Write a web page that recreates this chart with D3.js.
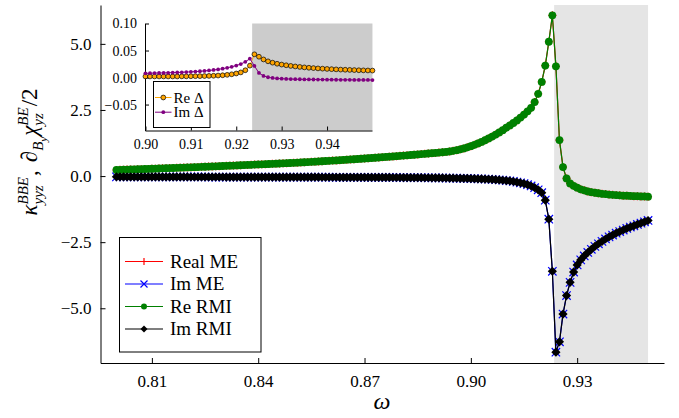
<!DOCTYPE html>
<html>
<head>
<meta charset="utf-8">
<script src="https://cdn.jsdelivr.net/npm/d3@7"></script>
<style>
  body { margin: 0; background: #fff; }
  text { font-family: "Liberation Serif", "DejaVu Serif", serif; fill: #000; }
</style>
</head>
<body>
<div class="canvas"></div>
<script>
// frequency grid of the main panel
const omega = [
  0.800, 0.801, 0.802, 0.803, 0.804, 0.805, 0.806, 0.807, 0.808, 0.809,
  0.810, 0.811, 0.812, 0.813, 0.814, 0.815, 0.816, 0.817, 0.818, 0.819,
  0.820, 0.821, 0.822, 0.823, 0.824, 0.825, 0.826, 0.827, 0.828, 0.829,
  0.830, 0.831, 0.832, 0.833, 0.834, 0.835, 0.836, 0.837, 0.838, 0.839,
  0.840, 0.841, 0.842, 0.843, 0.844, 0.845, 0.846, 0.847, 0.848, 0.849,
  0.850, 0.851, 0.852, 0.853, 0.854, 0.855, 0.856, 0.857, 0.858, 0.859,
  0.860, 0.861, 0.862, 0.863, 0.864, 0.865, 0.866, 0.867, 0.868, 0.869,
  0.870, 0.871, 0.872, 0.873, 0.874, 0.875, 0.876, 0.877, 0.878, 0.879,
  0.880, 0.881, 0.882, 0.883, 0.884, 0.885, 0.886, 0.887, 0.888, 0.889,
  0.890, 0.891, 0.892, 0.893, 0.894, 0.895, 0.896, 0.897, 0.898, 0.899,
  0.900, 0.901, 0.902, 0.903, 0.904, 0.905, 0.906, 0.907, 0.908, 0.909,
  0.910, 0.911, 0.912, 0.913, 0.914, 0.915, 0.916, 0.917, 0.918, 0.919,
  0.920, 0.921, 0.922, 0.923, 0.924, 0.925, 0.926, 0.927, 0.928, 0.929,
  0.930, 0.931, 0.932, 0.933, 0.934, 0.935, 0.936, 0.937, 0.938, 0.939,
  0.940, 0.941, 0.942, 0.943, 0.944, 0.945, 0.946, 0.947, 0.948, 0.949,
  0.950
];

const reRMI = [
  0.230, 0.235, 0.239, 0.244, 0.248, 0.253, 0.258, 0.262, 0.267, 0.272,
  0.277, 0.281, 0.286, 0.291, 0.296, 0.301, 0.306, 0.311, 0.316, 0.321,
  0.327, 0.332, 0.337, 0.342, 0.348, 0.353, 0.359, 0.364, 0.370, 0.375,
  0.381, 0.386, 0.392, 0.398, 0.403, 0.409, 0.415, 0.421, 0.427, 0.433,
  0.439, 0.444, 0.450, 0.456, 0.462, 0.468, 0.475, 0.481, 0.488, 0.495,
  0.501, 0.508, 0.516, 0.523, 0.530, 0.538, 0.545, 0.553, 0.561, 0.569,
  0.577, 0.585, 0.593, 0.602, 0.610, 0.619, 0.628, 0.637, 0.646, 0.655,
  0.664, 0.674, 0.683, 0.693, 0.703, 0.713, 0.723, 0.733, 0.743, 0.754,
  0.764, 0.775, 0.786, 0.796, 0.807, 0.819, 0.830, 0.841, 0.853, 0.864,
  0.876, 0.888, 0.900, 0.913, 0.931, 0.953, 0.979, 1.010, 1.046, 1.086,
  1.131, 1.180, 1.234, 1.292, 1.355, 1.422, 1.494, 1.571, 1.652, 1.737,
  1.827, 1.915, 2.008, 2.106, 2.212, 2.326, 2.450, 2.580, 2.800, 3.110,
  3.560, 4.180, 5.080, 6.080, 4.150, 1.360, 0.340, -0.090, -0.280, -0.370,
  -0.440, -0.500, -0.540, -0.580, -0.610, -0.630, -0.650, -0.670, -0.680, -0.700,
  -0.710, -0.720, -0.730, -0.740, -0.740, -0.750, -0.760, -0.760, -0.770, -0.770,
  -0.780
];

const imRMI = [
  -0.030, -0.030, -0.030, -0.031, -0.031, -0.031, -0.031, -0.031, -0.032, -0.032,
  -0.032, -0.032, -0.033, -0.033, -0.033, -0.033, -0.033, -0.034, -0.034, -0.034,
  -0.034, -0.035, -0.035, -0.035, -0.035, -0.035, -0.036, -0.036, -0.036, -0.036,
  -0.036, -0.037, -0.037, -0.037, -0.037, -0.037, -0.038, -0.038, -0.038, -0.038,
  -0.038, -0.039, -0.039, -0.039, -0.039, -0.039, -0.040, -0.040, -0.040, -0.040,
  -0.040, -0.041, -0.041, -0.042, -0.042, -0.042, -0.043, -0.043, -0.044, -0.044,
  -0.044, -0.045, -0.045, -0.046, -0.046, -0.046, -0.047, -0.047, -0.047, -0.048,
  -0.048, -0.049, -0.050, -0.050, -0.051, -0.052, -0.052, -0.053, -0.054, -0.054,
  -0.055, -0.056, -0.057, -0.058, -0.059, -0.060, -0.061, -0.063, -0.064, -0.066,
  -0.068, -0.070, -0.072, -0.074, -0.077, -0.079, -0.082, -0.085, -0.088, -0.091,
  -0.095, -0.099, -0.103, -0.108, -0.114, -0.120, -0.128, -0.137, -0.147, -0.158,
  -0.170, -0.185, -0.205, -0.230, -0.255, -0.285, -0.325, -0.375, -0.440, -0.520,
  -0.630, -0.910, -1.630, -3.600, -6.660, -6.270, -5.220, -4.520, -4.020, -3.630,
  -3.360, -3.170, -3.020, -2.890, -2.770, -2.660, -2.560, -2.470, -2.380, -2.300,
  -2.230, -2.160, -2.100, -2.040, -1.980, -1.930, -1.880, -1.830, -1.780, -1.730,
  -1.680
];

// the ME curves sit on top of the RMI ones at this scale (difference shown in the inset)
const reME = reRMI;
const imME = imRMI;

// inset: differences on 0.900 .. 0.950
const reDelta = [
  0.0020, 0.0020, 0.0020, 0.0020, 0.0020, 0.0020, 0.0020, 0.0020, 0.0022, 0.0022,
  0.0024, 0.0025, 0.0026, 0.0028, 0.0030, 0.0033, 0.0037, 0.0042, 0.0050, 0.0060,
  0.0075, 0.0095, 0.0135, 0.0220, 0.0430, 0.0385, 0.0335, 0.0300, 0.0275, 0.0255,
  0.0240, 0.0227, 0.0215, 0.0205, 0.0196, 0.0188, 0.0181, 0.0175, 0.0169, 0.0164,
  0.0159, 0.0155, 0.0151, 0.0147, 0.0144, 0.0141, 0.0138, 0.0135, 0.0133, 0.0131,
  0.0129
];
const imDelta = [
  0.0078, 0.0080, 0.0082, 0.0084, 0.0086, 0.0088, 0.0091, 0.0094, 0.0097, 0.0101,
  0.0105, 0.0110, 0.0116, 0.0123, 0.0131, 0.0140, 0.0151, 0.0164, 0.0180, 0.0199,
  0.0222, 0.0250, 0.0290, 0.0350, 0.0215, 0.0085, 0.0030, 0.0005, -0.0008, -0.0016,
  -0.0021, -0.0025, -0.0028, -0.0030, -0.0032, -0.0034, -0.0035, -0.0036, -0.0037, -0.0038,
  -0.0039, -0.0040, -0.0041, -0.0042, -0.0042, -0.0043, -0.0044, -0.0044, -0.0045, -0.0045,
  -0.0046
];
const omegaInset = omega.slice(omega.indexOf(0.9));

const xTicks = [0.81, 0.84, 0.87, 0.90, 0.93];
const yTicks = [-5.0, -2.5, 0.0, 2.5, 5.0];
const insetXTicks = [0.90, 0.91, 0.92, 0.93, 0.94];
const insetYTicks = [-0.05, 0.00, 0.05, 0.10];
const shade = [0.9235, 0.95];

const legendNames = ["Real ME", "Im ME", "Re RMI", "Im RMI"];
const insetNames = ["Re Δ", "Im Δ"];

const svg = d3.select(".canvas")
  .append("svg")
  .attr("width", 679)
  .attr("height", 418);

const plot = { left: 100.5, right: 664, top: 5, bottom: 363 };

const x = d3.scaleLinear().domain([0.7955, 0.9545]).range([plot.left, plot.right]);
const y = d3.scaleLinear().domain([-7.07, 6.47]).range([plot.bottom, plot.top]);

// shaded band
svg.append("rect")
  .attr("x", x(shade[0]))
  .attr("y", plot.top)
  .attr("width", x(shade[1]) - x(shade[0]))
  .attr("height", plot.bottom - plot.top)
  .attr("fill", "#e5e5e5");

const fmt2 = d3.format(".2f");
const fmt1 = d3.format(".1f");

const xAxis = svg.append("g")
  .attr("transform", `translate(0, ${plot.bottom})`)
  .call(d3.axisBottom(x).tickValues(xTicks).tickSizeInner(-5).tickSizeOuter(0).tickPadding(12).tickFormat(fmt2));
const yAxis = svg.append("g")
  .attr("transform", `translate(${plot.left}, 0)`)
  .call(d3.axisLeft(y).tickValues(yTicks).tickSizeInner(-5).tickSizeOuter(0).tickPadding(9).tickFormat(fmt1));
[xAxis, yAxis].forEach(a => {
  a.attr("font-family", null);
  a.selectAll("text").style("font-size", "17px").style("font-family", '"Liberation Serif", serif');
  a.selectAll("path, line").attr("stroke", "#000").attr("stroke-width", 1);
});

// markers
function marker(g, kind, color, cx, cy, s) {
  if (kind === "plus") {
    g.append("path").attr("d", `M${cx - s},${cy}H${cx + s}M${cx},${cy - s}V${cy + s}`)
      .attr("stroke", color).attr("stroke-width", 1.2).attr("fill", "none");
  } else if (kind === "cross") {
    g.append("path").attr("d", `M${cx - s},${cy - s}L${cx + s},${cy + s}M${cx - s},${cy + s}L${cx + s},${cy - s}`)
      .attr("stroke", color).attr("stroke-width", 1.2).attr("fill", "none");
  } else if (kind === "circle") {
    g.append("circle").attr("cx", cx).attr("cy", cy).attr("r", s).attr("fill", color);
  } else if (kind === "diamond") {
    g.append("path").attr("d", `M${cx},${cy - s}L${cx + s},${cy}L${cx},${cy + s}L${cx - s},${cy}Z`)
      .attr("fill", color);
  }
}

const series = [
  { name: legendNames[0], vals: reME, color: "#ff0000", kind: "plus", size: 4 },
  { name: legendNames[1], vals: imME, color: "#0000ff", kind: "cross", size: 4.2 },
  { name: legendNames[2], vals: reRMI, color: "#008000", kind: "circle", size: 3.9 },
  { name: legendNames[3], vals: imRMI, color: "#000000", kind: "diamond", size: 4.6 }
];

const line = d3.line().x(d => x(d[0])).y(d => y(d[1]));

series.forEach(s => {
  const pts = omega.map((w, i) => [w, s.vals[i]]);
  const g = svg.append("g");
  g.append("path").datum(pts).attr("d", line)
    .attr("fill", "none").attr("stroke", s.color).attr("stroke-width", 1.2);
  pts.forEach(p => marker(g, s.kind, s.color, x(p[0]), y(p[1]), s.size));
});

// legend
const leg = svg.append("g");
leg.append("rect").attr("x", 119.5).attr("y", 237.5).attr("width", 141.5).attr("height", 114.5)
  .attr("fill", "#fff").attr("stroke", "#000").attr("stroke-width", 1);
series.forEach((s, i) => {
  const ly = 261.5 + i * 22.5;
  leg.append("line").attr("x1", 125).attr("x2", 163).attr("y1", ly).attr("y2", ly)
    .attr("stroke", s.color).attr("stroke-width", 1.2);
  marker(leg, s.kind, s.color, 144, ly, s.kind === "circle" ? 3 : 3.5);
  leg.append("text").attr("x", 170).attr("y", ly).attr("dy", "0.34em")
    .style("font-size", "19px").text(s.name);
});

// axis labels
svg.append("text").attr("x", 382).attr("y", 409).attr("text-anchor", "middle")
  .style("font-size", "24px").style("font-style", "italic").text("ω");

const ylab = svg.append("g");
const ylabInner = ylab.append("g");
let cx = 0;
function piece(txt, size, dy, italic) {
  const t = ylabInner.append("text").attr("x", cx).attr("y", dy)
    .style("font-size", size + "px").style("font-style", italic ? "italic" : "normal").text(txt);
  return t.node().getComputedTextLength();
}
cx += piece("κ", 23, 0, true);
cx += Math.max(piece("BBE", 15, -9, true), piece("yyz", 15, 6, true)) + 1;
cx += piece(",", 23, 0, false) + 8;
cx += piece("∂", 23, 0, true);
cx += piece("B", 15, 6, true);
cx += piece("y", 11, 10, true) + 1;
cx += piece("χ", 23, 0, true);
cx += Math.max(piece("BE", 15, -9, true), piece("yz", 15, 6, true)) + 1;
cx += piece("/2", 23, 0, false);
ylabInner.attr("transform", `translate(${-cx / 2}, 0)`);
ylab.attr("transform", "translate(37, 152) rotate(-90)");

// inset
const ix = d3.scaleLinear().domain([0.8999, 0.9499]).range([145, 372]);
const iy = d3.scaleLinear().domain([-0.098, 0.10]).range([130.5, 23.5]);

svg.append("rect").attr("x", 145).attr("y", 23.5).attr("width", 227).attr("height", 107)
  .attr("fill", "#fff");
svg.append("rect")
  .attr("x", ix(shade[0])).attr("y", 23.5)
  .attr("width", ix(shade[1]) - ix(shade[0])).attr("height", 107)
  .attr("fill", "#cccccc");

const ixAxis = svg.append("g").attr("transform", "translate(0, 130.5)")
  .call(d3.axisBottom(ix).tickValues(insetXTicks).tickSizeInner(-4).tickSizeOuter(0).tickPadding(9).tickFormat(fmt2));
const iyAxis = svg.append("g").attr("transform", "translate(145, 0)")
  .call(d3.axisLeft(iy).tickValues(insetYTicks).tickSizeInner(-4).tickSizeOuter(0).tickPadding(8).tickFormat(fmt2));
[ixAxis, iyAxis].forEach(a => {
  a.attr("font-family", null);
  a.selectAll("text").style("font-size", "14px").style("font-family", '"Liberation Serif", serif');
  a.selectAll("path, line").attr("stroke", "#000").attr("stroke-width", 1);
});

const insetSeries = [
  { name: insetNames[0], vals: reDelta, color: "#ffa500", stroke: "#000", r: 2.4 },
  { name: insetNames[1], vals: imDelta, color: "#800080", stroke: "none", r: 1.9 }
];
const iline = d3.line().x(d => ix(d[0])).y(d => iy(d[1]));
insetSeries.forEach(s => {
  const pts = omegaInset.map((w, i) => [w, s.vals[i]]);
  const g = svg.append("g");
  g.append("path").datum(pts).attr("d", iline)
    .attr("fill", "none").attr("stroke", s.color).attr("stroke-width", 1);
  g.selectAll("circle").data(pts).enter().append("circle")
    .attr("cx", d => ix(d[0])).attr("cy", d => iy(d[1])).attr("r", s.r)
    .attr("fill", s.color).attr("stroke", s.stroke).attr("stroke-width", 0.7);
});

const ileg = svg.append("g");
ileg.append("rect").attr("x", 153.5).attr("y", 81.5).attr("width", 56.5).attr("height", 46)
  .attr("fill", "#fff").attr("stroke", "#000").attr("stroke-width", 1);
insetSeries.forEach((s, i) => {
  const ly = 97.5 + i * 14.7;
  ileg.append("line").attr("x1", 155).attr("x2", 171.5).attr("y1", ly).attr("y2", ly)
    .attr("stroke", s.color).attr("stroke-width", 1);
  ileg.append("circle").attr("cx", 163.3).attr("cy", ly).attr("r", s.r)
    .attr("fill", s.color).attr("stroke", s.stroke).attr("stroke-width", 0.7);
  ileg.append("text").attr("x", 173.5).attr("y", ly).attr("dy", "0.34em")
    .style("font-size", "15px").text(s.name);
});
</script>
</body>
</html>
